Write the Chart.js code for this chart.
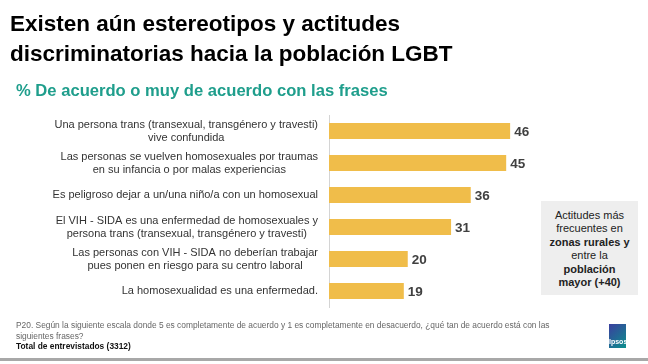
<!DOCTYPE html>
<html>
<head>
<meta charset="utf-8">
<script src="https://cdn.jsdelivr.net/npm/chart.js@4"></script>
<style>
  body { margin: 0; background: #fff; font-family: "Liberation Sans", Arial, sans-serif; }
  #wrap { position: relative; width: 648px; height: 364px; overflow: hidden; }
  #myChart { position: absolute; left: 0; top: 0; }
  .title { position: absolute; left: 10px; top: 9px; font-size: 22.5px; line-height: 30px; font-weight: bold; color: #000; }
  .subtitle { position: absolute; left: 16px; top: 82px; font-size: 16.6px; line-height: 18px; font-weight: bold; color: #1f9e8c; white-space: nowrap; }
  .note { position: absolute; left: 541px; top: 201px; width: 97px; height: 94px; background: #eeeeee; box-sizing: border-box; padding-top: 7.5px; text-align: center; font-size: 11px; line-height: 13.5px; color: #222; }
  .foot { position: absolute; left: 16px; top: 320px; font-size: 8.4px; line-height: 10.5px; color: #666; white-space: nowrap; }
  .foot b { color: #111; }
  .logo { position: absolute; left: 609px; top: 324px; width: 17px; height: 24px; background: linear-gradient(135deg, #3b3f9f, #0b8f8c); color: #fff; font-size: 7px; font-weight: bold; text-align: center; line-height: 8px; }
  .logo span { position: absolute; left: 0; right: 0; bottom: 2px; }
  .bottomline { position: absolute; left: 0; top: 358px; width: 648px; height: 3px; background: #a8a8a8; }
</style>
</head>
<body>
<div id="wrap">
  <canvas id="myChart" width="648" height="364"></canvas>
  <div class="title">Existen aún estereotipos y actitudes<br>discriminatorias hacia la población LGBT</div>
  <div class="subtitle">% De acuerdo o muy de acuerdo con las frases</div>
  <div class="note">Actitudes más<br>frecuentes en<br><b>zonas rurales y</b><br>entre la<br><b>población<br>mayor (+40)</b></div>
  <div class="foot">P20. Según la siguiente escala donde 5 es completamente de acuerdo y 1 es completamente en desacuerdo, ¿qué tan de acuerdo está con las<br>siguientes frases?<br><b>Total de entrevistados (3312)</b></div>
  <div class="logo"><span>Ipsos</span></div>
  <div class="bottomline"></div>
</div>
<script>
//CATEGORIES (EACH ONE SPLIT INTO LINES) AND VALUES
const frases = [
  ["Una persona trans (transexual, transgénero y travesti)", "vive confundida"],
  ["Las personas se vuelven homosexuales por traumas", "en su infancia o por malas experiencias"],
  ["Es peligroso dejar a un/una niño/a con un homosexual"],
  ["El VIH - SIDA es una enfermedad de homosexuales y", "persona trans (transexual, transgénero y travesti)"],
  ["Las personas con VIH - SIDA no deberían trabajar", "pues ponen en riesgo para su centro laboral"],
  ["La homosexualidad es una enfermedad."],
];
const acuerdo = [46, 45, 36, 31, 20, 19];

const fontFam = '"Liberation Sans", Arial, sans-serif';

//DRAW THE CATEGORY LABELS (RIGHT ALIGNED BLOCK, CENTERED LINES) AND THE VALUES
const labelPlugin = {
  id: "labelPlugin",
  afterDatasetsDraw(chart) {
    const ctx = chart.ctx;
    const yScale = chart.scales.y;
    const area = chart.chartArea;
    ctx.save();
    ctx.textBaseline = "middle";
    ctx.font = "11px " + fontFam;
    ctx.fillStyle = "#333";
    ctx.textAlign = "center";
    for (let i = 0; i < frases.length; i++) {
      const lines = frases[i];
      let widest = 0;
      lines.forEach((l) => (widest = Math.max(widest, ctx.measureText(l).width)));
      const cx = area.left - 11 - widest / 2;
      const cy = yScale.getPixelForValue(i);
      const lh = 13;
      lines.forEach((l, j) => {
        ctx.fillText(l, cx, cy + (j - (lines.length - 1) / 2) * lh);
      });
    }
    ctx.font = "bold 13.5px " + fontFam;
    ctx.fillStyle = "#404040";
    ctx.textAlign = "left";
    const meta = chart.getDatasetMeta(0);
    meta.data.forEach((bar, i) => {
      ctx.fillText(acuerdo[i], bar.x + 4, bar.y + 1);
    });
    ctx.restore();
  },
};

new Chart(document.getElementById("myChart"), {
  type: "bar",
  data: {
    labels: frases,
    datasets: [
      {
        data: acuerdo,
        backgroundColor: "#f0bd4a",
        borderWidth: 0,
        barPercentage: 0.5,
        categoryPercentage: 1,
      },
    ],
  },
  options: {
    indexAxis: "y",
    responsive: false,
    animation: false,
    layout: { padding: { top: 115, bottom: 57, left: 0, right: 4 } },
    plugins: { legend: { display: false }, tooltip: { enabled: false } },
    scales: {
      x: { min: 0, max: 80, display: false },
      y: {
        grid: { display: false },
        border: { display: true, color: "#d4d4d4", width: 1 },
        ticks: { display: false },
        afterFit(scale) {
          scale.width = 329;
        },
      },
    },
  },
  plugins: [labelPlugin],
});
</script>
</body>
</html>
